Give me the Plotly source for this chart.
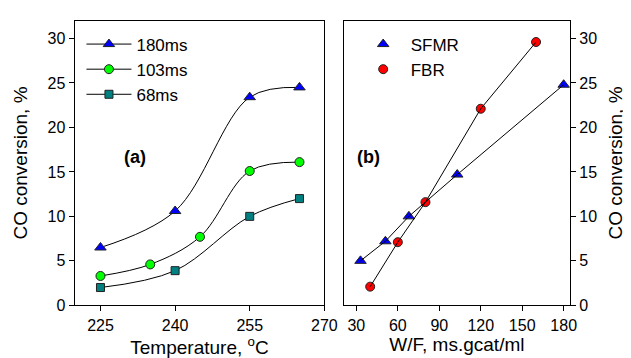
import plotly.graph_objects as go

# Panel (a): CO conversion vs temperature
temp_180 = [225, 240, 255, 265]
conv_180 = [6.5, 10.6, 23.4, 24.5]
temp_103 = [225, 235, 245, 255, 265]
conv_103 = [3.3, 4.6, 7.7, 15.1, 16.1]
temp_68 = [225, 240, 255, 265]
conv_68 = [2.0, 3.9, 10.0, 12.0]

# Panel (b): CO conversion vs W/F
wf_sfmr = [33, 51, 68, 103, 180]
conv_sfmr = [5.0, 7.2, 10.0, 14.7, 24.8]
wf_fbr = [40, 60, 80, 120, 160]
conv_fbr = [2.1, 7.1, 11.6, 22.1, 29.6]

temp_ticks = [225, 240, 255, 270]
wf_ticks = [30, 60, 90, 120, 150, 180]
y_ticks = [0, 5, 10, 15, 20, 25, 30]

FONT = "Liberation Sans, Arial, sans-serif"
W, H = 631, 358

fig = go.Figure()

def add_a(x, y, name, symbol, color, size):
    fig.add_trace(go.Scatter(
        x=x, y=y, name=name, mode="lines+markers",
        line=dict(color="black", width=1, shape="spline"),
        marker=dict(symbol=symbol, color=color, size=size,
                    line=dict(color="#222222", width=1)),
        xaxis="x", yaxis="y", legend="legend"))

add_a(temp_180, conv_180, "180ms", "triangle-up", "#0000ff", 10)
add_a(temp_103, conv_103, "103ms", "circle", "#00ff00", 9)
add_a(temp_68, conv_68, "68ms", "square", "#008080", 8)

# Panel b: markers first, then lines on top
fig.add_trace(go.Scatter(x=wf_sfmr, y=conv_sfmr, name="SFMR", mode="markers",
                         marker=dict(symbol="triangle-up", color="#0000ff", size=10,
                                     line=dict(color="#222222", width=1)),
                         xaxis="x2", yaxis="y2", legend="legend2"))
fig.add_trace(go.Scatter(x=wf_fbr, y=conv_fbr, name="FBR", mode="markers",
                         marker=dict(symbol="circle", color="#ff0000", size=9,
                                     line=dict(color="#222222", width=1)),
                         xaxis="x2", yaxis="y2", legend="legend2"))
fig.add_trace(go.Scatter(x=wf_sfmr, y=conv_sfmr, mode="lines", showlegend=False,
                         line=dict(color="black", width=1), hoverinfo="skip",
                         xaxis="x2", yaxis="y2"))
fig.add_trace(go.Scatter(x=wf_fbr, y=conv_fbr, mode="lines", showlegend=False,
                         line=dict(color="black", width=1), hoverinfo="skip",
                         xaxis="x2", yaxis="y2"))

axis_common = dict(showgrid=False, zeroline=False, showline=True, linecolor="black",
                   linewidth=1, mirror=True, ticks="outside", ticklen=5,
                   tickcolor="black", tickfont=dict(family=FONT, size=16, color="black"))

y0, y1 = (H - 305) / H, (H - 13) / H
TFONT = dict(family=FONT, size=19, color="black")

fig.update_layout(
    width=W, height=H,
    margin=dict(l=0, r=0, t=0, b=0),
    paper_bgcolor="white", plot_bgcolor="white",
    font=dict(family=FONT, color="black"),
    xaxis=dict(domain=[68 / W, 323 / W], range=[219.8, 270], tickvals=temp_ticks,
               title=dict(text="Temperature, <sup>o</sup>C", font=TFONT, standoff=0),
               anchor="y", **axis_common),
    yaxis=dict(domain=[y0, y1], range=[0, 32], tickvals=y_ticks,
               title=dict(text="CO conversion, %", font=TFONT, standoff=14),
               anchor="x", **axis_common),
    xaxis2=dict(domain=[342.7 / W, 574 / W], range=[20.8, 184.7], tickvals=wf_ticks,
                title=dict(text="W/F, ms.gcat/ml", font=TFONT, standoff=0),
                anchor="y2", **axis_common),
    yaxis2=dict(domain=[y0, y1], range=[0, 32], tickvals=y_ticks, side="right",
                title=dict(text="CO conversion, %", font=TFONT, standoff=12),
                anchor="x2", **axis_common),
    legend=dict(x=75 / W, y=1 - 19 / H, xanchor="left", yanchor="top",
                bgcolor="rgba(0,0,0,0)", font=dict(family=FONT, size=17),
                itemwidth=45, tracegroupgap=0),
    legend2=dict(x=355 / W, y=1 - 19 / H, xanchor="left", yanchor="top",
                 bgcolor="rgba(0,0,0,0)", font=dict(family=FONT, size=17),
                 itemwidth=45, tracegroupgap=0),
    annotations=[
        dict(text="<b>(a)</b>", x=130 / W, y=1 - 153 / H, xref="paper", yref="paper",
             xanchor="center", yanchor="middle",
             showarrow=False, font=dict(family=FONT, size=18)),
        dict(text="<b>(b)</b>", x=368 / W, y=1 - 153 / H, xref="paper", yref="paper",
             xanchor="center", yanchor="middle",
             showarrow=False, font=dict(family=FONT, size=18)),
    ],
)

fig.write_html("out.html")
